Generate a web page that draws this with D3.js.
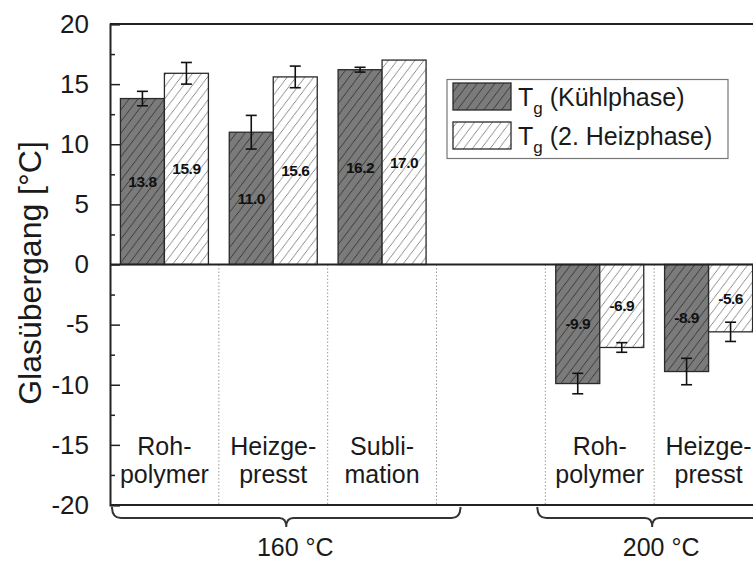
<!DOCTYPE html>
<html>
<head>
<meta charset="utf-8">
<script src="https://cdn.jsdelivr.net/npm/d3@7"></script>
<style>
  html, body { margin: 0; padding: 0; background: #fff; }
  svg { display: block; font-family: "Liberation Sans", Arial, sans-serif; }
</style>
</head>
<body>
<svg id="chart" width="753" height="562"></svg>
<script>
// Sample slots along the x axis (the empty slot separates the two temperature groups)
const slotIds = ["r160", "h160", "s160", "gap", "r200", "h200"];
const slotLabels = [["Roh-", "polymer"], ["Heizge-", "presst"], ["Subli-", "mation"], [], ["Roh-", "polymer"], ["Heizge-", "presst"]];

// Glass transition temperatures [°C] and their error (± °C)
const tgCooling = [13.8, 11.0, 16.2, null, -9.9, -8.9];
const tgCoolingErr = [0.6, 1.4, 0.2, null, 0.85, 1.1];
const tgHeating = [15.9, 15.6, 17.0, null, -6.9, -5.6];
const tgHeatingErr = [0.9, 0.9, 0, null, 0.4, 0.8];

const seriesNames = ["Kühlphase", "2. Heizphase"];
const yTicks = [-20, -15, -10, -5, 0, 5, 10, 15, 20];
const yMinorTicks = [-17.5, -12.5, -7.5, -2.5, 2.5, 7.5, 12.5, 17.5];

// Temperature groups
const groupLabels = ["160 °C", "200 °C"];

const svg = d3.select("#chart");
const plotL = 110, plotR = 763, plotT = 24, plotB = 505;

const x = d3.scaleBand().domain(slotIds).range([plotL, plotR]).paddingInner(0).paddingOuter(0);
const y = d3.scaleLinear().domain([-20, 20]).range([plotB, plotT]);
const barW = 44;

// Hatch patterns
const defs = svg.append("defs");
function hatch(id, bg, lineColor) {
  const p = defs.append("pattern")
    .attr("id", id).attr("patternUnits", "userSpaceOnUse")
    .attr("width", 10).attr("height", 10)
    .attr("patternTransform", "rotate(-8)");
  p.append("rect").attr("width", 10).attr("height", 10).attr("fill", bg);
  p.append("path")
    .attr("d", "M-1,1 l2,-2 M0,10 l10,-10 M9,11 l2,-2")
    .attr("stroke", lineColor).attr("stroke-width", 1);
}
hatch("hatchDark", "#7b7b7b", "#333333");
hatch("hatchLight", "#ffffff", "#808080");
const fills = ["url(#hatchDark)", "url(#hatchLight)"];

// Dotted slot separators below zero
const seps = slotIds.slice(1).map(id => x(id));
svg.append("g").selectAll("line").data(seps).join("line")
  .attr("x1", d => d).attr("x2", d => d)
  .attr("y1", y(0)).attr("y2", plotB)
  .attr("stroke", "#9a9a9a").attr("stroke-width", 1)
  .attr("stroke-dasharray", "1.5,2");

// Bars
const rows = [];
slotIds.forEach((id, i) => {
  [[tgCooling, tgCoolingErr], [tgHeating, tgHeatingErr]].forEach(([vals, errs], s) => {
    if (vals[i] !== null) rows.push({ id, s, v: vals[i], e: errs[i] });
  });
});
const bx = d => x(d.id) + x.bandwidth() / 2 - barW + d.s * barW;

svg.append("g").selectAll("rect").data(rows).join("rect")
  .attr("x", bx)
  .attr("y", d => Math.min(y(d.v), y(0)))
  .attr("width", barW)
  .attr("height", d => Math.abs(y(d.v) - y(0)))
  .attr("fill", d => fills[d.s])
  .attr("stroke", "#2a2a2a").attr("stroke-width", 1.3);

// Error bars
const eb = svg.append("g").attr("stroke", "#111").attr("stroke-width", 1.6);
rows.filter(d => d.e > 0).forEach(d => {
  const cx = bx(d) + barW / 2;
  eb.append("line").attr("x1", cx).attr("x2", cx).attr("y1", y(d.v + d.e)).attr("y2", y(d.v - d.e));
  eb.append("line").attr("x1", cx - 5.5).attr("x2", cx + 5.5).attr("y1", y(d.v + d.e)).attr("y2", y(d.v + d.e));
  eb.append("line").attr("x1", cx - 5.5).attr("x2", cx + 5.5).attr("y1", y(d.v - d.e)).attr("y2", y(d.v - d.e));
});

// Value labels in the middle of each bar
svg.append("g").selectAll("text").data(rows).join("text")
  .attr("x", d => bx(d) + barW / 2)
  .attr("y", d => y(d.v / 2))
  .attr("dy", "0.35em")
  .attr("text-anchor", "middle")
  .attr("font-size", 15.5).attr("font-weight", "bold").attr("fill", "#111")
  .attr("letter-spacing", -0.5)
  .text(d => d.v.toFixed(1));

// Zero line and frame
[[plotL, plotR, y(0), y(0)], [plotL, plotR, plotT, plotT], [plotL, plotR, plotB, plotB], [plotR, plotR, plotT, plotB]]
  .forEach(([a, b, c, e]) => svg.append("line").attr("x1", a).attr("x2", b).attr("y1", c).attr("y2", e)
    .attr("stroke", "#222").attr("stroke-width", 2));

// Y axis with inward ticks
const yAxis = svg.append("g").attr("transform", `translate(${plotL},0)`)
  .call(d3.axisLeft(y).tickValues(yTicks).tickSize(-10).tickPadding(21).tickFormat(d => String(d)));
yAxis.select(".domain").attr("stroke", "#222").attr("stroke-width", 2);
yAxis.selectAll(".tick line").attr("stroke", "#222").attr("stroke-width", 1.5);
yAxis.selectAll(".tick text").attr("font-size", 26).attr("fill", "#1a1a1a")
  .attr("font-family", "'Liberation Sans', Arial, sans-serif");
svg.append("g").attr("transform", `translate(${plotL},0)`)
  .call(d3.axisLeft(y).tickValues(yMinorTicks).tickSize(-5).tickFormat(""))
  .call(g => g.select(".domain").remove())
  .selectAll(".tick line").attr("stroke", "#222").attr("stroke-width", 1.5);

// Axis title
svg.append("text")
  .attr("transform", "translate(41,273) rotate(-90)")
  .attr("text-anchor", "middle")
  .attr("font-size", 32).attr("fill", "#1a1a1a")
  .text("Glasübergang [°C]");

// Category labels
slotIds.forEach((id, i) => {
  const cx = x(id) + x.bandwidth() / 2;
  slotLabels[i].forEach((line, k) => {
    svg.append("text").attr("x", cx).attr("y", 455 + k * 28)
      .attr("text-anchor", "middle").attr("font-size", 25).attr("fill", "#1a1a1a")
      .text(line);
  });
});

// Group braces and temperature labels
const braceX0 = [plotL + 2, x(slotIds[4]) - 8];
const braceX1 = [x(slotIds[3]) + 24, plotR + 4];
groupLabels.forEach((lab, g) => {
  const x0 = braceX0[g], x1 = braceX1[g];
  const mid = (x0 + x1) / 2;
  const yl = 518, yt = 507, yp = 527;
  const path = `M${x0},${yt} Q${x0},${yl} ${x0 + 9},${yl} L${mid - 7},${yl} Q${mid},${yl} ${mid},${yp}`
    + ` M${mid},${yp} Q${mid},${yl} ${mid + 7},${yl} L${x1 - 9},${yl} Q${x1},${yl} ${x1},${yt}`;
  svg.append("path").attr("d", path).attr("fill", "none")
    .attr("stroke", "#333").attr("stroke-width", 2);
  svg.append("text").attr("x", mid + 9).attr("y", 556)
    .attr("text-anchor", "middle").attr("font-size", 25).attr("fill", "#1a1a1a")
    .text(lab);
});

// Legend
const lg = svg.append("g");
lg.append("rect").attr("x", 447).attr("y", 79.5).attr("width", 281).attr("height", 79)
  .attr("fill", "#fff").attr("stroke", "#777").attr("stroke-width", 1.2);
seriesNames.forEach((name, s) => {
  const yy = 83 + s * 39;
  lg.append("rect").attr("x", 453).attr("y", yy).attr("width", 58).attr("height", 27)
    .attr("fill", fills[s]).attr("stroke", "#2a2a2a").attr("stroke-width", 1.3);
  const t = lg.append("text").attr("x", 518).attr("y", yy + 23).attr("font-size", 25).attr("fill", "#1a1a1a");
  t.append("tspan").text("T");
  t.append("tspan").attr("font-size", 17).attr("dy", 8).text("g");
  t.append("tspan").attr("dy", -8).text(" (" + name + ")");
});
</script>
</body>
</html>
